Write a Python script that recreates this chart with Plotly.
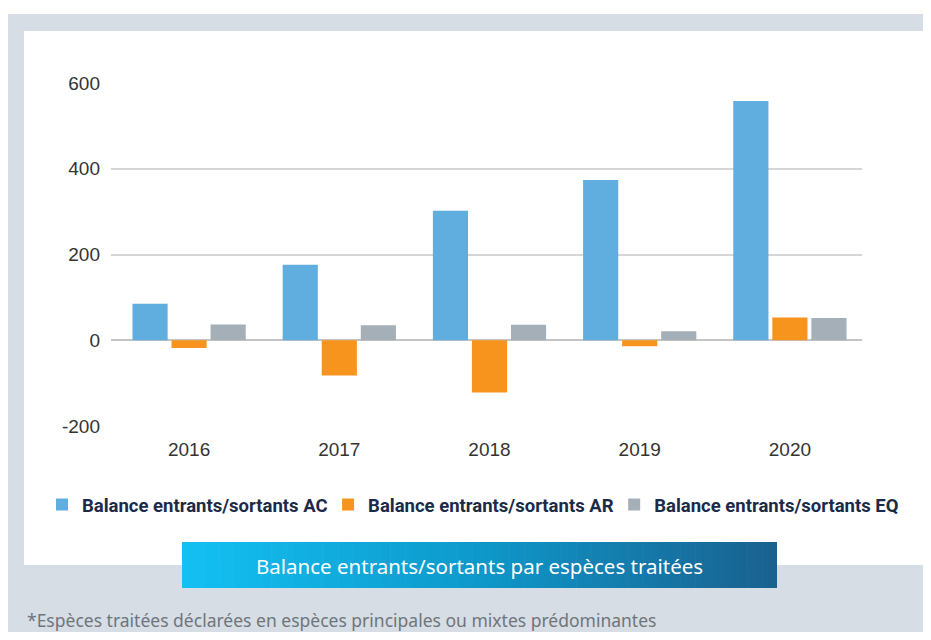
import plotly.graph_objects as go

years = ["2016", "2017", "2018", "2019", "2020"]
ac = [85, 176, 302, 374, 558]
ar = [-18, -82, -122, -14, 53]
eq = [37, 35, 36, 21, 52]

series_names = ["Balance entrants/sortants AC", "Balance entrants/sortants AR", "Balance entrants/sortants EQ"]
series_colors = ["#60aee0", "#f7941e", "#a4afb7"]
y_ticks = [-200, 0, 200, 400, 600]
y_tick_labels = ["-200", "0", "200", "400", "600"]

title_text = "Balance entrants/sortants par espèces traitées"
note_text = "*Espèces traitées déclarées en espèces principales ou mixtes prédominantes"

# the page body adds an 8px margin, so the figure is drawn 8px in from the corner
W, H = 915, 624
L, T = 103, 75
R = W - 854
B = H - 418
pw, ph = W - L - R, H - T - B

def ppx(x):
    return (x - L) / pw

def ppy(y):
    return (H - B - y) / ph

fig = go.Figure()
for name, vals, col in zip(series_names, [ac, ar, eq], series_colors):
    fig.add_trace(go.Bar(x=years, y=vals, name=name, marker=dict(color=col, line=dict(width=0))))

shapes = []
shapes.append(dict(type="rect", xref="paper", yref="paper", x0=ppx(0), x1=ppx(W + 2), y0=ppy(6), y1=ppy(H + 2),
                   fillcolor="#d6dde4", line=dict(width=0), layer="below"))
shapes.append(dict(type="rect", xref="paper", yref="paper", x0=ppx(16), x1=ppx(W + 2), y0=ppy(23), y1=ppy(557),
                   fillcolor="#ffffff", line=dict(width=0), layer="below"))
# gradient banner
stops = [(0.0, (20, 192, 242)), (0.5, (14, 152, 202)), (1.0, (26, 96, 142))]

def grad(t):
    for (t0, c0), (t1, c1) in zip(stops[:-1], stops[1:]):
        if t <= t1:
            f = (t - t0) / (t1 - t0)
            return "rgb(%d,%d,%d)" % tuple(round(a + (b - a) * f) for a, b in zip(c0, c1))
    return "rgb(%d,%d,%d)" % stops[-1][1]

bx0, bx1, by0, by1 = 174, 769, 534, 580
n = 80
for i in range(n):
    x0 = bx0 + (bx1 - bx0) * i / n
    x1 = bx0 + (bx1 - bx0) * (i + 1) / n + 0.6
    shapes.append(dict(type="rect", xref="paper", yref="paper", x0=ppx(x0), x1=ppx(min(x1, bx1)), y0=ppy(by0), y1=ppy(by1),
                       fillcolor=grad((i + 0.5) / n), line=dict(width=0), layer="above"))

annotations = [
    dict(text=title_text, xref="paper", yref="paper", x=ppx((bx0 + bx1) / 2), y=ppy(558), xanchor="center", yanchor="middle",
         showarrow=False, font=dict(family="Noto Sans", size=20.5, color="#ffffff")),
    dict(text=note_text, xref="paper", yref="paper", x=ppx(17), y=ppy(612), xanchor="left", yanchor="middle",
         showarrow=False, font=dict(family="Noto Sans", size=17.5, color="#6f757b")),
]

fig.update_layout(
    width=W, height=H,
    margin=dict(l=L, r=R, t=T, b=B, pad=0),
    paper_bgcolor="#ffffff", plot_bgcolor="rgba(0,0,0,0)",
    barmode="group", bargap=0.22, bargroupgap=0.1,
    shapes=shapes, annotations=annotations,
    font=dict(family="Liberation Sans, Arial, sans-serif", size=19, color="#333333"),
    legend=dict(orientation="h", x=ppx(34), xanchor="left", y=ppy(497), yanchor="middle",
                entrywidth=0.335, entrywidthmode="fraction",
                font=dict(family="Liberation Sans Narrow, Arial Narrow, Roboto, sans-serif", size=18.5, color="#1b2a48", weight="bold"),
                bgcolor="rgba(0,0,0,0)", itemclick=False, traceorder="normal"),
    xaxis=dict(range=[-0.52, 4.48], showgrid=False, showline=False, ticks="", tickfont=dict(size=19, color="#333333"),
               ticklabelstandoff=10, fixedrange=True),
    yaxis=dict(range=[-200, 600], tickvals=y_ticks, ticktext=y_tick_labels, showgrid=True, gridcolor="#d6d6d6", gridwidth=1.5,
               zeroline=True, zerolinecolor="#c4c4c4", zerolinewidth=2, showline=False, ticks="", ticklabelstandoff=10,
               tickfont=dict(size=19, color="#333333"), fixedrange=True),
)
fig.write_html("out.html")
